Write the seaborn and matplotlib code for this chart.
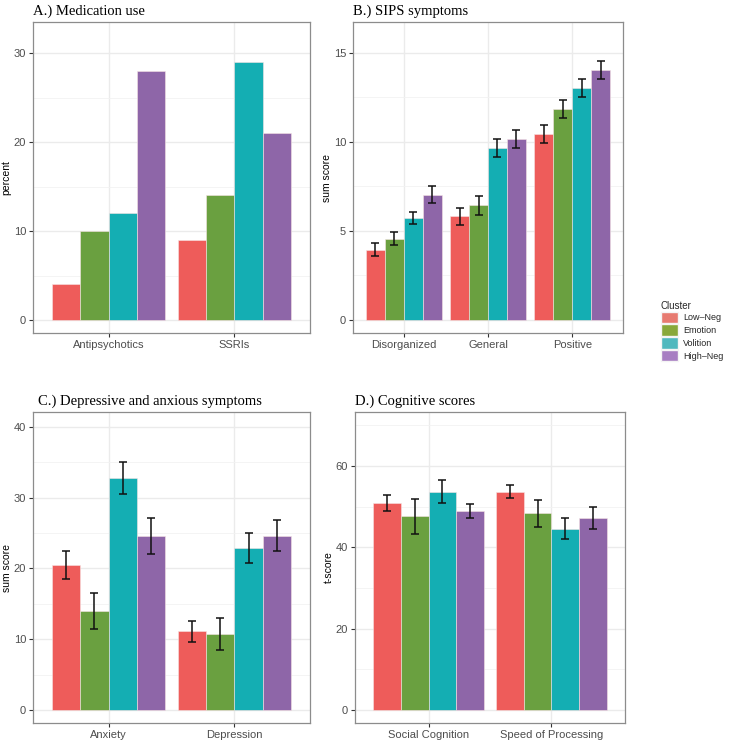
import numpy as np
import pandas as pd
import matplotlib
matplotlib.use("Agg")
import matplotlib.pyplot as plt
from matplotlib.patches import Patch
from matplotlib.ticker import MultipleLocator
import seaborn as sns

clusters = ["Low\u2013Neg", "Emotion", "Volition", "High\u2013Neg"]
bar_colors = ["#EE5C5A", "#6AA040", "#14AEB3", "#8E66A8"]
legend_colors = ["#E77A70", "#88A83A", "#4FB8BE", "#A77DC2"]

# A.) Medication use
med_cats = ["Antipsychotics", "SSRIs"]
med_vals = [[4, 10, 12, 28], [9, 14, 29, 21]]

# B.) SIPS symptoms
sips_cats = ["Disorganized", "General", "Positive"]
sips_vals = [[3.96, 4.56, 5.74, 7.04], [5.82, 6.45, 9.66, 10.17], [10.45, 11.86, 13.03, 14.03]]
sips_err = [[0.35, 0.36, 0.34, 0.47], [0.47, 0.53, 0.50, 0.52], [0.52, 0.51, 0.49, 0.51]]

# C.) Depressive and anxious symptoms
dep_cats = ["Anxiety", "Depression"]
dep_vals = [[20.5, 14.0, 32.8, 24.6], [11.1, 10.8, 22.9, 24.6]]
dep_err = [[1.95, 2.6, 2.3, 2.5], [1.5, 2.25, 2.15, 2.2]]

# D.) Cognitive scores
cog_cats = ["Social Cognition", "Speed of Processing"]
cog_vals = [[50.9, 47.6, 53.7, 48.9], [53.7, 48.4, 44.6, 47.2]]
cog_err = [[2.0, 4.2, 2.9, 1.75], [1.65, 3.3, 2.6, 2.75]]

sns.set_theme(style="white")
plt.rcParams['font.family'] = ['Liberation Sans', 'DejaVu Sans']

fig = plt.figure(figsize=(7.3, 7.42), dpi=100)


def make_df(cats, vals, errs=None):
    rows = []
    for i, c in enumerate(cats):
        for j, cl in enumerate(clusters):
            rows.append({"cat": c, "Cluster": cl, "val": vals[i][j],
                         "err": errs[i][j] if errs is not None else np.nan})
    return pd.DataFrame(rows)


def panel(rect, cats, vals, errs, ylim, major, ylabel, title, tx=0.0):
    ax = fig.add_axes(rect)
    df = make_df(cats, vals, errs)
    sns.barplot(data=df, x="cat", y="val", hue="Cluster", hue_order=clusters,
                order=cats, palette=bar_colors, width=0.9, gap=0, errorbar=None,
                saturation=1, edgecolor="#F6E4E4", linewidth=0.4, legend=False,
                ax=ax, zorder=3)
    bar_containers = list(ax.containers)
    if errs is not None:
        for j, cont in enumerate(bar_containers):
            for i, bar in enumerate(cont):
                xc = bar.get_x() + bar.get_width() / 2
                ax.errorbar(xc, vals[i][j], yerr=errs[i][j], color="#111111",
                            capsize=3, elinewidth=1.1, capthick=1.1, zorder=4)
    ax.set_xlim(-0.6, len(cats) - 0.4)
    ax.set_ylim(*ylim)
    ax.yaxis.set_major_locator(MultipleLocator(major))
    ax.yaxis.set_minor_locator(MultipleLocator(major / 2))
    ax.grid(True, which="major", axis="both", color="#EBEBEB", lw=1.0, zorder=0)
    ax.grid(True, which="minor", axis="y", color="#F2F2F2", lw=0.6, zorder=0)
    ax.set_axisbelow(True)
    ax.set_facecolor("white")
    for s in ax.spines.values():
        s.set_color("#8C8C8C")
        s.set_linewidth(0.9)
    ax.tick_params(axis="both", which="major", length=3, width=0.8, color="#333333",
                   labelsize=8, labelcolor="#4D4D4D", pad=2, bottom=True, left=True)
    ax.tick_params(axis="y", which="minor", length=0)
    ax.set_xlabel("")
    ax.set_ylabel(ylabel, fontsize=7.5, color="black", labelpad=1.5)
    fig.text(rect[0] + tx, rect[1] + rect[3] + 0.006, title, family="Liberation Serif",
             fontsize=10.5, ha="left", va="bottom", color="black")
    return ax


top_y, h = 1 - 333 / 742, 311 / 742
bot_y = 1 - 723 / 742
panel([33 / 730, top_y, 277 / 730, h], med_cats, med_vals, None,
      (-1.46, 33.5), 10, "percent", "A.) Medication use")
panel([353 / 730, top_y, 270 / 730, h], sips_cats, sips_vals, sips_err,
      (-0.73, 16.74), 5, "sum score", "B.) SIPS symptoms")
panel([33 / 730, bot_y, 277 / 730, h], dep_cats, dep_vals, dep_err,
      (-1.83, 42.1), 10, "sum score", "C.) Depressive and anxious symptoms", tx=5 / 730)
panel([355 / 730, bot_y, 270 / 730, h], cog_cats, cog_vals, cog_err,
      (-3.2, 73.3), 20, "t-score", "D.) Cognitive scores")

handles = [Patch(facecolor=c, edgecolor="#F4F4F4", label=l) for c, l in zip(legend_colors, clusters)]
leg = fig.legend(handles=handles, title="Cluster", loc="upper left",
                 bbox_to_anchor=(657 / 730, 1 - 297 / 742), frameon=False,
                 fontsize=6.5, title_fontsize=7, handlelength=1.9, handleheight=1.6,
                 handletextpad=0.6, labelspacing=0.12, borderaxespad=0)
leg._legend_box.align = "left"

fig.savefig("out.png", dpi=100)
